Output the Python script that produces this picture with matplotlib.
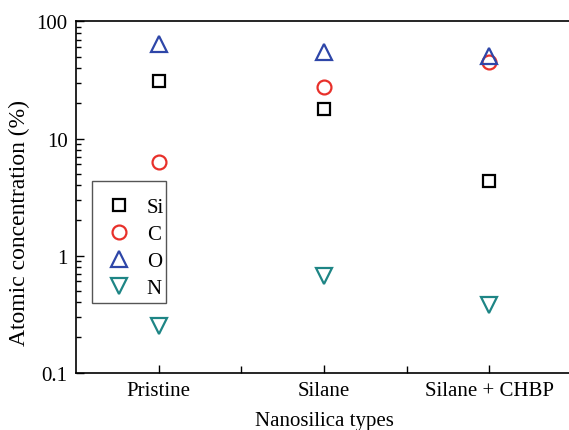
import numpy as np
import matplotlib
matplotlib.use("Agg")
import matplotlib.pyplot as plt
from matplotlib.patches import Rectangle
from matplotlib.ticker import LogLocator, NullFormatter

# Atomic concentration (%) per nanosilica type, from XPS survey
types = ["Pristine", "Silane", "Silane + CHBP"]
si_conc = [30.8, 17.9, 4.36]
c_conc = [6.3, 27.4, 44.8]
o_conc = [64.2, 54.6, 51.0]
n_conc = [0.25, 0.67, 0.377]

plt.rcParams["font.family"] = ["Liberation Serif", "DejaVu Serif"]

fig = plt.figure(figsize=(5.69, 4.31), dpi=100)
ax = fig.add_axes([0.1336, 0.1334, 0.872, 0.8144])

x = np.arange(1, len(types) + 1)
mew = 1.6
ax.plot(x, si_conc, "s", ms=9, mfc="none", mec="black", mew=mew, label="Si")
ax.plot(x, c_conc, "o", ms=10, mfc="none", mec="#e8302a", mew=mew, label="C")
ax.plot(x, o_conc, "^", ms=11, mfc="none", mec="#2e46a8", mew=mew, label="O")
ax.plot(x, n_conc, "v", ms=11, mfc="none", mec="#1e8585", mew=mew, label="N")

ax.set_yscale("log")
ax.set_ylim(0.1, 100)
ax.set_xlim(0.5, 3.5)
ax.set_xticks(x)
ax.set_xticklabels(types)
ax.set_xticks([1.5, 2.5], minor=True)
ax.set_yticks([0.1, 1, 10, 100])
ax.set_yticklabels(["0.1", "1", "10", "100"])
ax.yaxis.set_minor_locator(LogLocator(base=10, subs=np.arange(2, 10)))
ax.yaxis.set_minor_formatter(NullFormatter())

ax.tick_params(which="both", direction="in", top=False, right=False,
               labelsize=15, width=1)
ax.tick_params(which="major", length=6, pad=6)
ax.tick_params(which="minor", length=3.5)
ax.tick_params(axis="x", which="minor", length=5)
for s in ax.spines.values():
    s.set_linewidth(1.2)
ax.spines["right"].set_visible(False)

ax.set_xlabel("Nanosilica types", fontsize=15, labelpad=8)
ax.set_ylabel("Atomic concentration (%)", fontsize=17)
ax.yaxis.set_label_coords(-0.092, 0.429)

# legend box drawn separately so the padding can be set per side
ax.add_patch(Rectangle((0.0323, 0.198), 0.1492, 0.3476, transform=ax.transAxes,
                       fill=False, edgecolor="#555555", lw=1.0, zorder=4))
leg = ax.legend(loc="upper left", bbox_to_anchor=(0.0553, 0.498),
                borderaxespad=0, borderpad=0, fontsize=15, frameon=False,
                handletextpad=0.58, labelspacing=0.35, handlelength=1.5)

fig.savefig("out.png", dpi=100)
